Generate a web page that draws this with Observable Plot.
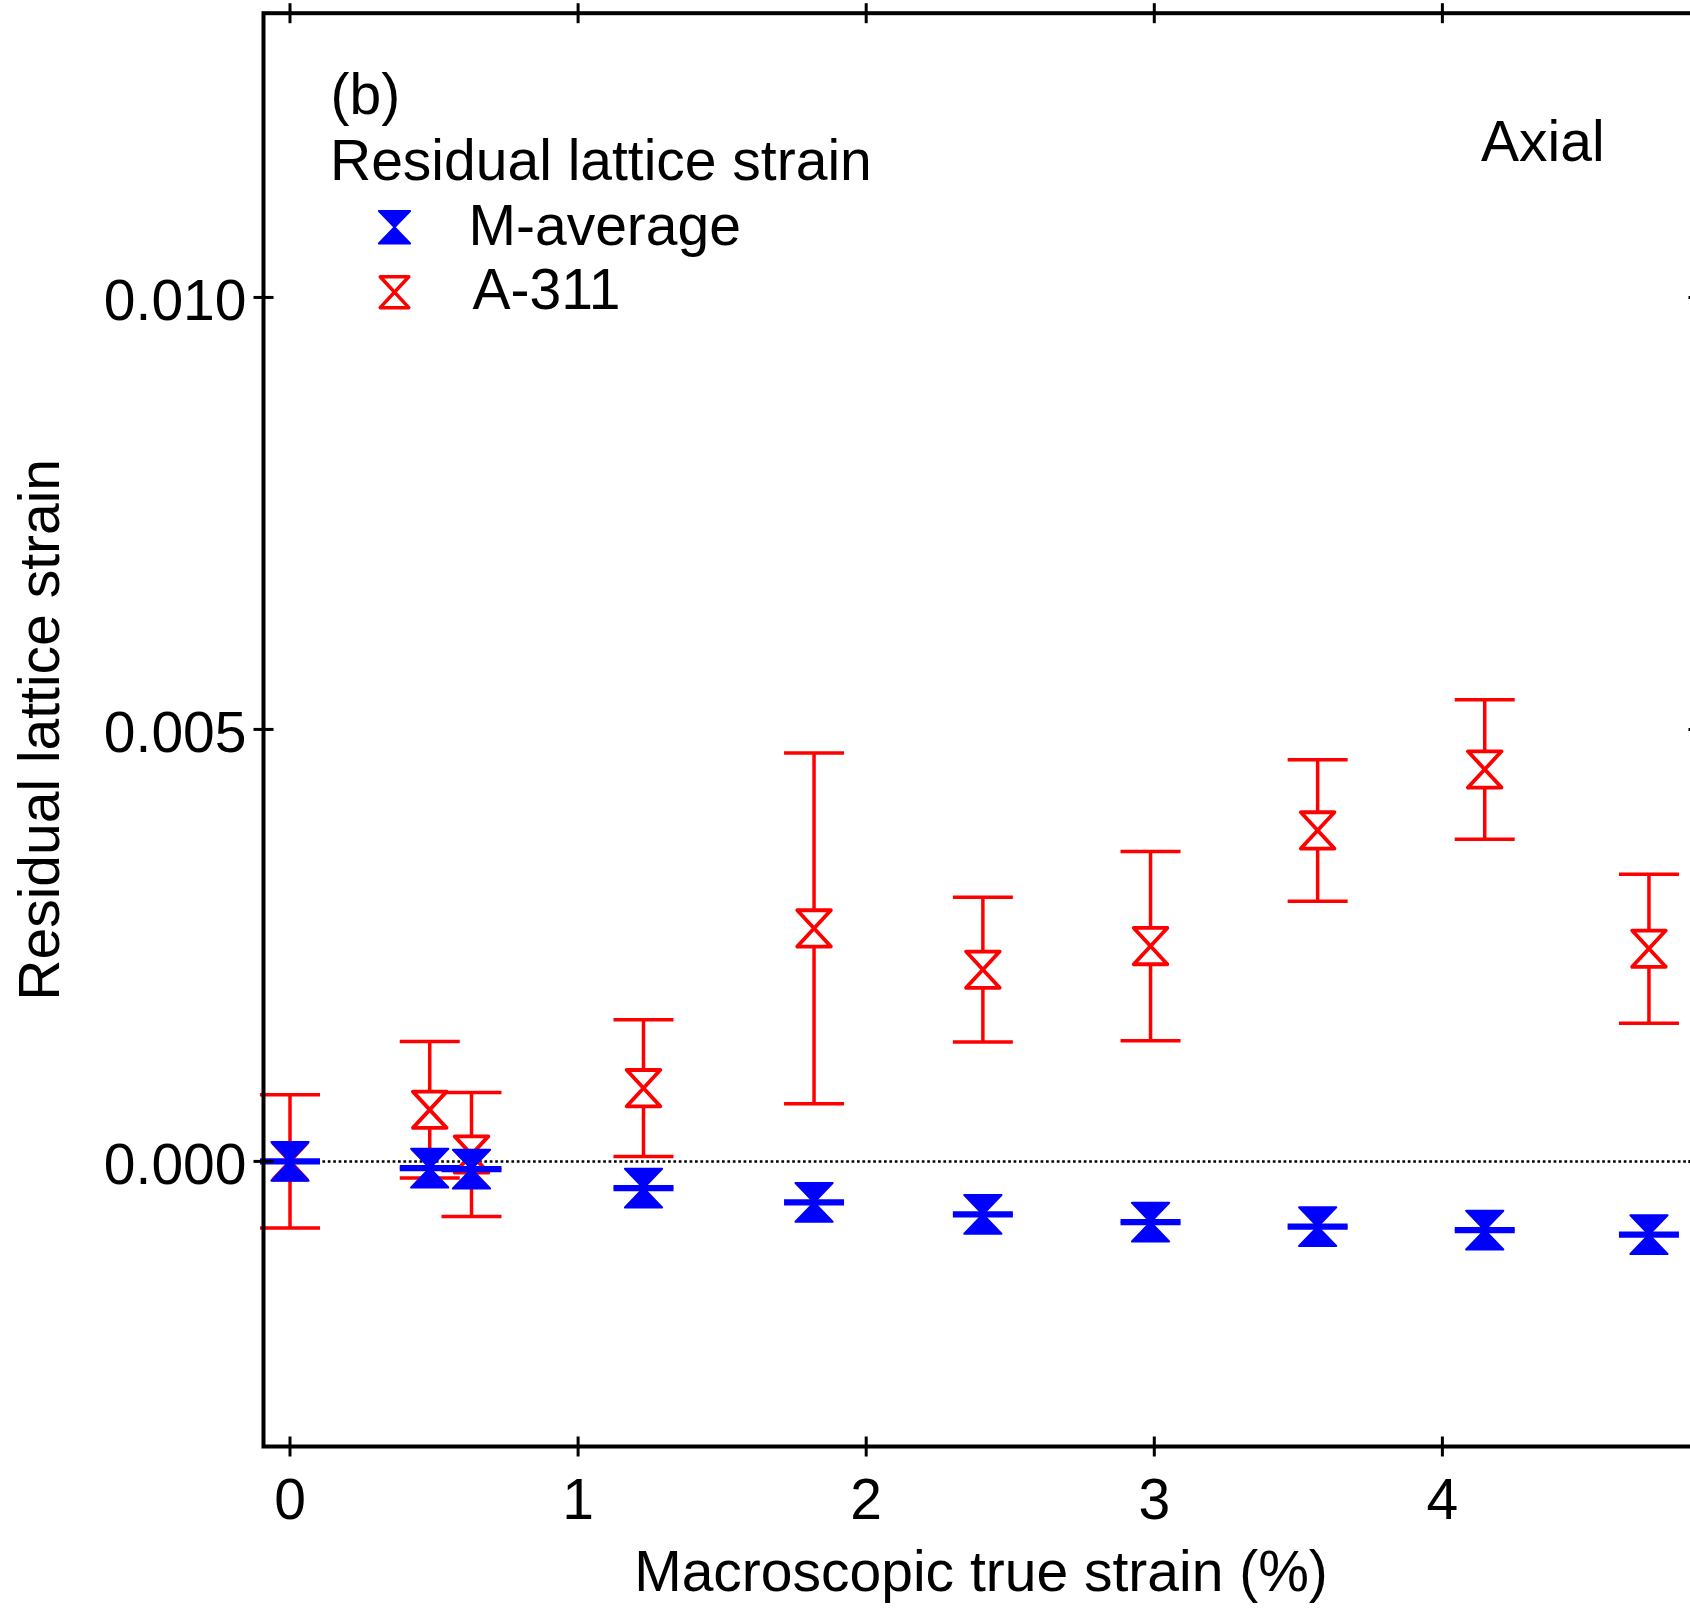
<!DOCTYPE html>
<html>
<head>
<meta charset="utf-8">
<script src="https://cdn.jsdelivr.net/npm/d3@7"></script>
<script src="https://cdn.jsdelivr.net/npm/@observablehq/plot@0.6"></script>
<style>
html, body { margin: 0; padding: 0; background: #fff; }
#wrap { width: 1690px; height: 1608px; overflow: hidden; position: relative; }
#wrap svg { display: block; max-width: none !important; }
</style>
</head>
<body>
<div id="wrap"></div>
<script>
// ---- data ----
const strainX      = [0, 0.485, 0.63, 1.227, 1.819, 2.405, 2.987, 3.567, 4.147, 4.717];
const mAverage     = [0, -0.0000775, -0.000089, -0.000309, -0.000475, -0.000613, -0.000703, -0.000756, -0.000795, -0.000848];
const mAverageErr  = [0.000015, 0.000015, 0.000015, 0.000015, 0.000015, 0.000015, 0.000015, 0.000015, 0.000015, 0.000015];
const a311         = [0, 0.000598, 0.00008, 0.000848, 0.002697, 0.002219, 0.002492, 0.003831, 0.004537, 0.002462];
const a311Err      = [0.000772, 0.000791, 0.000718, 0.000791, 0.002029, 0.000837, 0.001096, 0.000819, 0.000807, 0.000862];
const xTicks       = [0, 1, 2, 3, 4];
const xTickLabels  = ["0", "1", "2", "3", "4"];
const yTicks       = [0, 0.005, 0.010];
const yTickLabels  = ["0.000", "0.005", "0.010"];
const seriesNames  = ["M-average", "A-311"];
const xDomain = [-0.092, 4.889];
const yDomain = [-0.0033, 0.01329];

const blue = "#0000ff", red = "#ff0000";

const mData = strainX.map((x, i) => ({x, y: mAverage[i], e: mAverageErr[i]}));
const aData = strainX.map((x, i) => ({x, y: a311[i], e: a311Err[i]}));

// custom symbols
const hourglassOf = (ratio) => ({draw(ctx, size) {
  const r = Math.sqrt(size / Math.PI), w = r, h = r * ratio;
  ctx.moveTo(-w, -h); ctx.lineTo(w, -h); ctx.lineTo(-w, h); ctx.lineTo(w, h); ctx.closePath();
}});
const hourglassOpen = hourglassOf(1.08);
const hourglassFill = hourglassOf(1.04);
const hLine = {draw(ctx, size) {
  const r = Math.sqrt(size / Math.PI);
  ctx.moveTo(-r, 0); ctx.lineTo(r, 0);
}};
const vLine = {draw(ctx, size) {
  const r = Math.sqrt(size / Math.PI);
  ctx.moveTo(0, -r); ctx.lineTo(0, r);
}};

function errorMarks(data, color, sw) {
  return [
    Plot.ruleX(data, {x: "x", y1: d => d.y - d.e, y2: d => d.y + d.e, stroke: color, strokeWidth: sw}),
    Plot.dot(data, {x: "x", y: d => d.y + d.e, symbol: hLine, r: 30, fill: "none", stroke: color, strokeWidth: sw}),
    Plot.dot(data, {x: "x", y: d => d.y - d.e, symbol: hLine, r: 30, fill: "none", stroke: color, strokeWidth: sw})
  ];
}

const plot = Plot.plot({
  width: 1710,
  height: 1608,
  marginLeft: 263,
  marginRight: 12,
  marginTop: 12.7,
  marginBottom: 162,
  x: {domain: xDomain, axis: null},
  y: {domain: yDomain, axis: null},
  style: {fontFamily: "'Liberation Sans', Arial, Helvetica, sans-serif", fontSize: "57px", background: "white", color: "black", maxWidth: "none"},
  marks: [
    Plot.ruleY([0], {stroke: "black", strokeWidth: 2.5, strokeDasharray: "2.7,2.7"}),
    ...errorMarks(aData, red, 3.5),
    Plot.dot(aData, {x: "x", y: "y", symbol: hourglassOpen, r: 16.8, fill: "white", stroke: red, strokeWidth: 3.8, strokeLinejoin: "round"}),
    ...errorMarks(mData, blue, 3.6),
    Plot.dot(mData, {x: "x", y: "y", symbol: hourglassFill, r: 18.6, fill: blue, stroke: blue, strokeWidth: 2, strokeLinejoin: "round"}),
    Plot.frame({stroke: "black", strokeWidth: 4}),
    // tick marks crossing the frame
    Plot.dot(xTicks, {x: d => d, y: () => yDomain[0], symbol: vLine, r: 10, fill: "none", stroke: "black", strokeWidth: 3}),
    Plot.dot(xTicks, {x: d => d, y: () => yDomain[1], symbol: vLine, r: 10, fill: "none", stroke: "black", strokeWidth: 3}),
    Plot.dot(yTicks, {x: () => xDomain[0], y: d => d, symbol: hLine, r: 10, fill: "none", stroke: "black", strokeWidth: 3}),
    Plot.dot(yTicks, {x: () => xDomain[1], y: d => d, symbol: hLine, r: 10, fill: "none", stroke: "black", strokeWidth: 3}),
    // tick labels
    Plot.text(xTicks, {x: d => d, y: () => yDomain[0], text: (d, i) => xTickLabels[i], textAnchor: "middle", lineAnchor: "bottom", dy: 72, fill: "black"}),
    Plot.text(yTicks, {x: () => xDomain[0], y: d => d, text: (d, i) => yTickLabels[i], textAnchor: "end", lineAnchor: "middle", dx: -17, dy: 4, fill: "black"}),
    // axis titles
    Plot.text(["Macroscopic true strain (%)"], {frameAnchor: "bottom", text: d => d, textAnchor: "middle", lineAnchor: "bottom", dy: 144, fill: "black"}),
    Plot.text(["Residual lattice strain"], {frameAnchor: "left", text: d => d, rotate: -90, textAnchor: "middle", lineAnchor: "bottom", dx: -205, fill: "black"}),
    // annotations & legend
    Plot.text(["(b)"], {frameAnchor: "top-left", text: d => d, textAnchor: "start", lineAnchor: "bottom", dx: 67, dy: 100.6, fill: "black"}),
    Plot.text(["Residual lattice strain"], {frameAnchor: "top-left", text: d => d, textAnchor: "start", lineAnchor: "bottom", dx: 66.5, dy: 166.6, fill: "black"}),
    Plot.text(["Axial"], {frameAnchor: "top-left", text: d => d, textAnchor: "start", lineAnchor: "bottom", dx: 1217.5, dy: 147.3, fill: "black"}),
    Plot.dot([seriesNames[0]], {frameAnchor: "top-left", dx: 131, dy: 214, symbol: hourglassFill, r: 15.6, fill: blue, stroke: blue, strokeWidth: 2, strokeLinejoin: "round"}),
    Plot.dot([seriesNames[1]], {frameAnchor: "top-left", dx: 131, dy: 279, symbol: hourglassOpen, r: 14.3, fill: "white", stroke: red, strokeWidth: 3.5, strokeLinejoin: "round"}),
    Plot.text([seriesNames[0]], {frameAnchor: "top-left", text: d => d, textAnchor: "start", lineAnchor: "bottom", dx: 205, dy: 231.6, fill: "black"}),
    Plot.text([seriesNames[1]], {frameAnchor: "top-left", text: d => d, textAnchor: "start", lineAnchor: "bottom", dx: 209, dy: 295.6, fill: "black"})
  ]
});
document.getElementById("wrap").appendChild(plot);
</script>
</body>
</html>
